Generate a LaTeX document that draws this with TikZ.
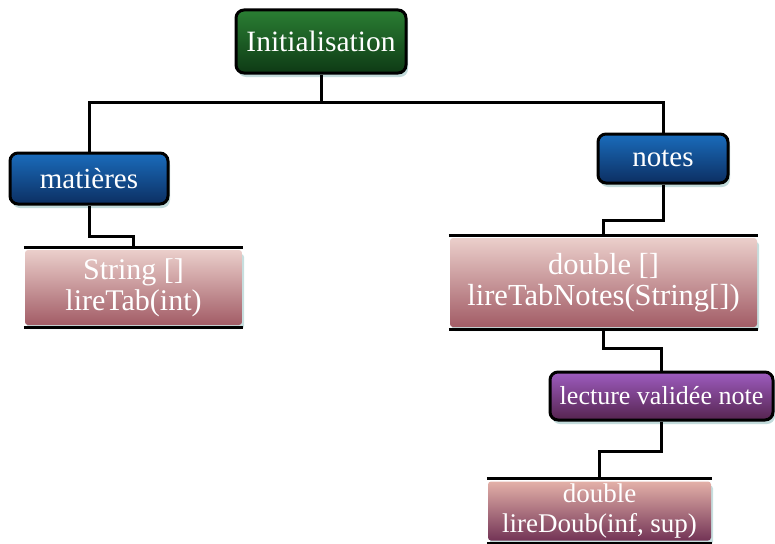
\documentclass[tikz,border=0pt]{standalone}
\usepackage{fontspec}
\setmainfont{Liberation Serif}
\usetikzlibrary{shadows}
\definecolor{gA}{HTML}{2A7E33}\definecolor{gB}{HTML}{0E3A15}
\definecolor{bA}{HTML}{1A6CBC}\definecolor{bB}{HTML}{0C2F62}
\definecolor{vA}{HTML}{9E5CC0}\definecolor{vB}{HTML}{55244F}
\definecolor{pA}{HTML}{EBCFCB}\definecolor{pB}{HTML}{A25C66}
\definecolor{qA}{HTML}{E3B0A8}\definecolor{qB}{HTML}{733456}
\definecolor{shd}{HTML}{8FBDBD}
\tikzset{
  box/.style={draw=black, line width=3pt, rounded corners=8pt, text=white, inner sep=0pt,
    shading angle=35, drop shadow={fill=shd, opacity=0.55, shadow xshift=2pt, shadow yshift=-4pt}},
  green/.style={box, top color=gA, bottom color=gB},
  blue/.style={box, top color=bA, bottom color=bB},
  violet/.style={box, top color=vA, bottom color=vB},
  slab/.style={rounded corners=3pt, inner sep=0pt, text=white, align=center, shading angle=35,
    drop shadow={fill=shd, opacity=0.5, shadow xshift=2pt, shadow yshift=-4pt}},
  pinkA/.style={slab, top color=pA, bottom color=pB},
  pinkB/.style={slab, top color=qA, bottom color=qB},
  link/.style={draw=black, line width=3pt},
  rule/.style={draw=black, line width=3pt},
}
\begin{document}
\begin{tikzpicture}[x=1pt,y=-1pt]
\useasboundingbox (0,0) rectangle (775,543);
\node[green, minimum width=170pt, minimum height=63pt, font=\fontsize{29.5}{32}\selectfont] (init) at (321,41.5) {Initialisation};
\node[blue, minimum width=158pt, minimum height=51pt, font=\fontsize{29}{32}\selectfont] (mat) at (89,178.5) {matières};
\node[blue, minimum width=130pt, minimum height=49pt, font=\fontsize{29}{32}\selectfont] (notes) at (663,158.5) {notes};
\node[pinkA, minimum width=217pt, minimum height=75pt, font=\fontsize{30}{31}\selectfont] (str) at (133.5,287.5) {String []\\lireTab(int)};
\node[pinkA, minimum width=307pt, minimum height=89pt, font=\fontsize{30.5}{31}\selectfont] (dbl) at (603.5,282.5) {double []\\lireTabNotes(String[])};
\node[violet, minimum width=223pt, minimum height=48pt, font=\fontsize{26}{28}\selectfont] (lect) at (661.5,396) {lecture validée note};
\node[pinkB, minimum width=223pt, minimum height=59pt, font=\fontsize{27}{30}\selectfont] (doub) at (599.5,511) {double\\lireDoub(inf, sup)};
% rules above and below the slabs
\foreach \n in {str,dbl,doub}{
  \draw[rule] ([yshift=2.5pt,xshift=-1pt]\n.north west) -- ([yshift=2.5pt,xshift=1pt]\n.north east);
  \draw[rule] ([yshift=-2.5pt,xshift=-1pt]\n.south west) -- ([yshift=-2.5pt,xshift=1pt]\n.south east);
}
% connectors
\coordinate (bus) at (321,102);
\draw[link] (init.south) -- (bus);
\draw[link] (mat.north) |- (bus) -| (notes.north);
\draw[link] (mat.south) -- ++(0,31) -| ([yshift=2.5pt]str.north);
\draw[link] (notes.south) -- ++(0,36) -| ([yshift=2.5pt]dbl.north);
\draw[link] ([yshift=-2.5pt]dbl.south) -- ++(0,19) -| (lect.north);
\draw[link] (lect.south) -- ++(0,30) -| ([yshift=2.5pt]doub.north);
\end{tikzpicture}
\end{document}
